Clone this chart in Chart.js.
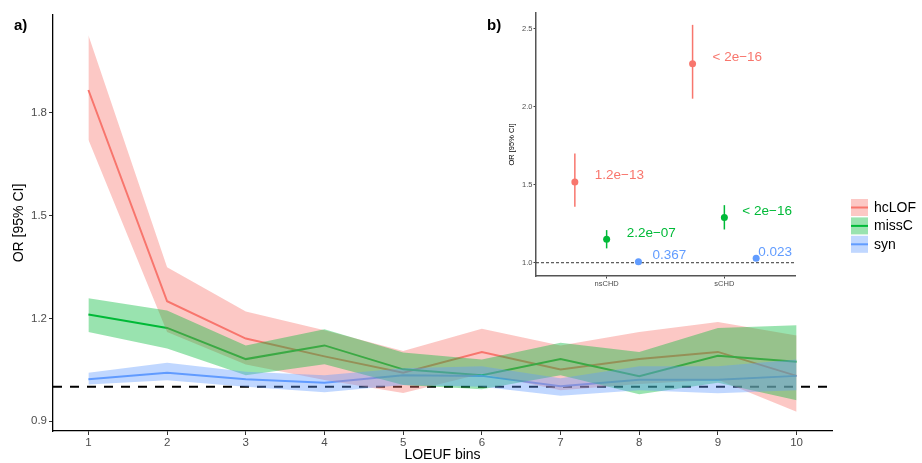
<!DOCTYPE html>
<html><head><meta charset="utf-8">
<script src="https://cdn.jsdelivr.net/npm/chart.js@4.4.1/dist/chart.umd.min.js"></script>
<style>
html,body{margin:0;padding:0;background:#fff;}
#wrap{position:relative;width:922px;height:463px;overflow:hidden;background:#fff;}
#main{position:absolute;left:0;top:0;}
#inset{position:absolute;left:480px;top:0;}
</style></head><body>
<div id="wrap"><canvas id="main" width="922" height="463"></canvas><canvas id="inset" width="330" height="300"></canvas></div>
<script>
// ---------- data: panel a ----------
const bins = [1, 2, 3, 4, 5, 6, 7, 8, 9, 10];
const yTicks = [0.9, 1.2, 1.5, 1.8];
const refOR = 1;
const seriesNames = ['hcLOF', 'missC', 'syn'];

const hcLOF_or = [1.867, 1.250, 1.141, 1.089, 1.041, 1.102, 1.051, 1.081, 1.102, 1.032];
const hcLOF_lo = [1.722, 1.160, 1.065, 1.020, 0.982, 1.038, 0.990, 1.008, 1.021, 0.927];
const hcLOF_hi = [2.027, 1.349, 1.220, 1.165, 1.105, 1.170, 1.121, 1.160, 1.189, 1.150];

const missC_or = [1.211, 1.172, 1.081, 1.121, 1.051, 1.034, 1.081, 1.031, 1.091, 1.073];
const missC_lo = [1.160, 1.112, 1.034, 1.066, 1.005, 0.993, 1.034, 0.978, 1.012, 0.961];
const missC_hi = [1.259, 1.223, 1.121, 1.168, 1.100, 1.080, 1.129, 1.102, 1.172, 1.180];

const syn_or = [1.022, 1.041, 1.022, 1.012, 1.034, 1.032, 1.002, 1.021, 1.021, 1.032];
const syn_lo = [1.007, 1.019, 1.000, 0.984, 1.005, 1.000, 0.974, 0.990, 0.981, 0.990];
const syn_hi = [1.041, 1.070, 1.044, 1.034, 1.054, 1.060, 1.025, 1.060, 1.060, 1.080];

// ---------- data: panel b ----------
const insetGroups = ['nsCHD', 'sCHD'];
const insetTicks = [1.0, 1.5, 2.0, 2.5];
const ins_hcLOF_or = [1.518, 2.275];
const ins_hcLOF_lo = [1.358, 2.051];
const ins_hcLOF_hi = [1.700, 2.524];
const ins_missC_or = [1.150, 1.290];
const ins_missC_lo = [1.092, 1.213];
const ins_missC_hi = [1.209, 1.369];
const ins_syn_or = [1.006, 1.028];
const ins_syn_lo = [0.997, 1.017];
const ins_syn_hi = [1.015, 1.039];
const ins_hcLOF_p = ['1.2e\u221213', '< 2e\u221216'];
const ins_missC_p = ['2.2e\u221207', '< 2e\u221216'];
const ins_syn_p = ['0.367', '0.023'];

// ---------- styles ----------
const COLORS = ['#F8766D', '#00BA38', '#619CFF'];
const FILLS = ['rgba(248,118,109,0.4)', 'rgba(0,186,56,0.4)', 'rgba(97,156,255,0.4)'];
const FONT = "'Liberation Sans', Arial, Helvetica, sans-serif";
const dodge = [-0.27, 0, 0.27];
const labelDx = [[20, 20], [20, 18], [14, 2]];
const labelDy = -6.5;

Chart.defaults.font.family = FONT;
Chart.defaults.animation = false;

const mainSeries = [
  {or: hcLOF_or, lo: hcLOF_lo, hi: hcLOF_hi},
  {or: missC_or, lo: missC_lo, hi: missC_hi},
  {or: syn_or, lo: syn_lo, hi: syn_hi}
];
const insetSeries = [
  {or: ins_hcLOF_or, lo: ins_hcLOF_lo, hi: ins_hcLOF_hi, p: ins_hcLOF_p},
  {or: ins_missC_or, lo: ins_missC_lo, hi: ins_missC_hi, p: ins_missC_p},
  {or: ins_syn_or, lo: ins_syn_lo, hi: ins_syn_hi, p: ins_syn_p}
];

const pts = arr => bins.map((b, k) => ({x: b, y: arr[k]}));
const datasets = [];
mainSeries.forEach((s, i) => {
  datasets.push({data: pts(s.hi), fill: '+1', backgroundColor: FILLS[i], borderColor: 'rgba(0,0,0,0)', borderWidth: 0, pointRadius: 0, order: 3 - i});
  datasets.push({data: pts(s.lo), fill: false, backgroundColor: 'rgba(0,0,0,0)', borderColor: 'rgba(0,0,0,0)', borderWidth: 0, pointRadius: 0, order: 3 - i});
});
mainSeries.forEach((s, i) => {
  datasets.push({data: pts(s.or), fill: false, borderColor: COLORS[i], borderWidth: 2, pointRadius: 0, order: 12 - i});
});

const mainPlugin = {
  id: 'mainDeco',
  beforeDatasetsDraw(chart) {
    const {ctx, chartArea, scales} = chart;
    const y = scales.y.getPixelForValue(refOR);
    ctx.save();
    ctx.strokeStyle = '#000';
    ctx.lineWidth = 2;
    ctx.setLineDash([9, 8]);
    ctx.beginPath();
    ctx.moveTo(chartArea.left, y);
    ctx.lineTo(chartArea.right, y);
    ctx.stroke();
    ctx.restore();
  },
  afterDraw(chart) {
    const {ctx} = chart;
    ctx.save();
    ctx.fillStyle = '#000';
    ctx.font = 'bold 15px ' + FONT;
    ctx.textBaseline = 'middle';
    ctx.textAlign = 'left';
    ctx.fillText('a)', 14, 26);
    ctx.fillText('b)', 487, 26);
    // legend
    const x0 = 851, w = 17, h = 17, rowH = 18.4, cy0 = 207.5;
    seriesNames.forEach((name, i) => {
      const cy = cy0 + i * rowH;
      ctx.fillStyle = '#fff';
      ctx.fillRect(x0, cy - h / 2, w, h);
      ctx.fillStyle = FILLS[i];
      ctx.fillRect(x0, cy - h / 2, w, h);
      ctx.strokeStyle = COLORS[i];
      ctx.lineWidth = 2;
      ctx.beginPath();
      ctx.moveTo(x0, cy);
      ctx.lineTo(x0 + w, cy);
      ctx.stroke();
      ctx.fillStyle = '#000';
      ctx.font = '14px ' + FONT;
      ctx.textBaseline = 'middle';
      ctx.fillText(name, 874, cy + 0.5);
    });
    ctx.restore();
  }
};

new Chart(document.getElementById('main'), {
  type: 'line',
  data: {datasets},
  options: {
    responsive: false,
    devicePixelRatio: 1,
    animation: false,
    layout: {padding: {left: 0, top: 15, right: 90, bottom: 0}},
    plugins: {legend: {display: false}, tooltip: {enabled: false}},
    elements: {line: {tension: 0}},
    scales: {
      x: {
        type: 'linear', min: 0.55, max: 10.45,
        afterBuildTicks: s => { s.ticks = bins.map(v => ({value: v})); },
        afterFit: s => { s.height = 32; },
        grid: {drawOnChartArea: false, drawTicks: true, tickLength: 4, color: '#333', lineWidth: 1},
        border: {display: true, color: '#000', width: 1.3},
        ticks: {color: '#4D4D4D', font: {size: 11.5}, padding: 1, maxRotation: 0, autoSkip: false,
                callback: v => String(v)},
        title: {display: true, text: 'LOEUF bins', color: '#000', font: {size: 14, lineHeight: 1}, padding: {top: 0, bottom: 1}}
      },
      y: {
        type: 'linear', min: 0.871, max: 2.086,
        afterBuildTicks: s => { s.ticks = yTicks.map(v => ({value: v})); },
        afterFit: s => { s.width = 53; },
        grid: {drawOnChartArea: false, drawTicks: true, tickLength: 4, color: '#333', lineWidth: 1},
        border: {display: true, color: '#000', width: 1.3},
        ticks: {color: '#4D4D4D', font: {size: 11.5}, padding: 2, callback: v => v.toFixed(1)},
        title: {display: true, text: 'OR [95% CI]', color: '#000', font: {size: 14, lineHeight: 1}, padding: {top: 12, bottom: 0}}
      }
    }
  },
  plugins: [mainPlugin]
});

// ---------- inset ----------
const insetDatasets = insetSeries.map((s, i) => ({
  type: 'scatter',
  data: insetGroups.map((g, k) => ({x: k + 1 + dodge[i], y: s.or[k]})),
  backgroundColor: COLORS[i],
  borderColor: COLORS[i],
  borderWidth: 0,
  pointRadius: 3.5
}));

const insetPlugin = {
  id: 'insetDeco',
  beforeDatasetsDraw(chart) {
    const {ctx, chartArea, scales} = chart;
    const y = scales.y.getPixelForValue(refOR);
    ctx.save();
    ctx.strokeStyle = '#333';
    ctx.lineWidth = 1;
    ctx.setLineDash([3, 2]);
    ctx.beginPath();
    ctx.moveTo(chartArea.left, y);
    ctx.lineTo(chartArea.right, y);
    ctx.stroke();
    ctx.setLineDash([]);
    insetSeries.forEach((s, i) => {
      ctx.strokeStyle = COLORS[i];
      ctx.lineWidth = 1.5;
      insetGroups.forEach((g, k) => {
        const x = scales.x.getPixelForValue(k + 1 + dodge[i]);
        ctx.beginPath();
        ctx.moveTo(x, scales.y.getPixelForValue(s.lo[k]));
        ctx.lineTo(x, scales.y.getPixelForValue(s.hi[k]));
        ctx.stroke();
      });
    });
    ctx.restore();
  },
  afterDatasetsDraw(chart) {
    const {ctx, scales} = chart;
    ctx.save();
    ctx.font = '13.5px ' + FONT;
    ctx.textBaseline = 'middle';
    ctx.textAlign = 'left';
    insetSeries.forEach((s, i) => {
      ctx.fillStyle = COLORS[i];
      insetGroups.forEach((g, k) => {
        const x = scales.x.getPixelForValue(k + 1 + dodge[i]) + labelDx[i][k];
        const y = scales.y.getPixelForValue(s.or[k]) + labelDy;
        ctx.fillText(s.p[k], x, y);
      });
    });
    ctx.restore();
  }
};

new Chart(document.getElementById('inset'), {
  type: 'scatter',
  data: {datasets: insetDatasets},
  options: {
    responsive: false,
    devicePixelRatio: 1,
    animation: false,
    layout: {padding: {left: 0, top: 13, right: 15, bottom: 0}},
    plugins: {legend: {display: false}, tooltip: {enabled: false}},
    scales: {
      x: {
        type: 'linear', min: 0.4, max: 2.6,
        afterBuildTicks: s => { s.ticks = insetGroups.map((g, k) => ({value: k + 1})); },
        afterFit: s => { s.height = 24; },
        grid: {drawOnChartArea: false, drawTicks: true, tickLength: 2.5, color: '#444', lineWidth: 1},
        border: {display: true, color: '#555', width: 1.5},
        ticks: {color: '#4D4D4D', font: {size: 7.5}, padding: 1, maxRotation: 0, autoSkip: false,
                callback: v => insetGroups[Math.round(v) - 1] || ''}
      },
      y: {
        type: 'linear', min: 0.915, max: 2.60,
        afterBuildTicks: s => { s.ticks = insetTicks.map(v => ({value: v})); },
        afterFit: s => { s.width = 56; },
        grid: {drawOnChartArea: false, drawTicks: true, tickLength: 2.5, color: '#444', lineWidth: 1},
        border: {display: true, color: '#555', width: 1.5},
        ticks: {color: '#4D4D4D', font: {size: 7.5}, padding: 1, callback: v => v.toFixed(1)},
        title: {display: true, text: 'OR [95% CI]', color: '#000', font: {size: 7.5, lineHeight: 1}, padding: {top: 28, bottom: 0}}
      }
    }
  },
  plugins: [insetPlugin]
});
</script>
</body></html>
